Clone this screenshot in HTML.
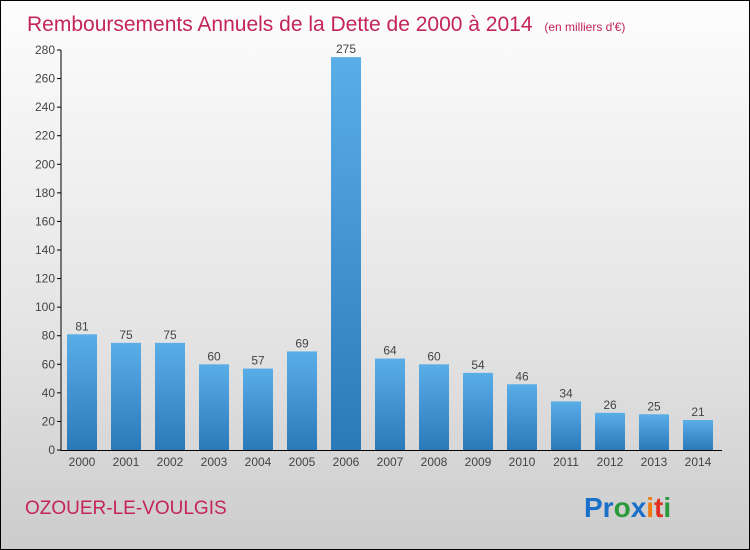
<!DOCTYPE html>
<html><head><meta charset="utf-8"><style>
body{margin:0;}
#c{width:748px;height:548px;border:1px solid #000;background:linear-gradient(#fdfdfd,#e4e4e4 60%,#cccccc);position:relative;font-family:"Liberation Sans",sans-serif;overflow:hidden}
</style></head><body>
<div id="c">
<svg id="s" width="748" height="548">
<defs><linearGradient id="g" x1="0" y1="0" x2="0" y2="1"><stop offset="0" stop-color="#5aaee8"/><stop offset="1" stop-color="#2a7ab8"/></linearGradient></defs>
<text x="26" y="30" font-size="21" fill="#c4245a">Remboursements Annuels de la Dette de 2000 à 2014 <tspan font-size="12" dx="6">(en milliers d'€)</tspan></text>
<text x="24" y="513" font-size="19" fill="#c4245a">OZOUER-LE-VOULGIS</text>
<text x="583" y="516" font-size="28" font-weight="bold"><tspan fill="#1a6fc8">Pr</tspan><tspan fill="#2a9a3a">o</tspan><tspan fill="#1a6fc8">x</tspan><tspan fill="#f07a10">i</tspan><tspan fill="#e03020">t</tspan><tspan fill="#2a9a3a">i</tspan></text>
<g id="plot"></g>
</svg></div>
<script>
const categories=["2000","2001","2002","2003","2004","2005","2006","2007","2008","2009","2010","2011","2012","2013","2014"];
const values=[81,75,75,60,57,69,275,64,60,54,46,34,26,25,21];
const ticks=[0,20,40,60,80,100,120,140,160,180,200,220,240,260,280];
const ns="http://www.w3.org/2000/svg";
const g=document.getElementById('plot');
const y0=449,ymax=280,ypx=400;
const y=v=>y0-v/ymax*ypx;
const x=i=>81+i*44;
function el(t,a,txt){const e=document.createElementNS(ns,t);for(const k in a)e.setAttribute(k,a[k]);if(txt!==undefined)e.textContent=txt;g.appendChild(e);return e;}
ticks.forEach(t=>{
 const l=el('line',{x1:56,x2:60,y1:y(t),y2:y(t),stroke:'#000'});
 
 const tx=el('text',{x:54,y:y(t)+4,'font-size':12,'text-anchor':'end',fill:'#444'},t);
 
});
values.forEach((v,i)=>{
 const r=el('rect',{x:x(i)-15,y:y(v),width:30,height:y0-y(v),fill:'url(#g)'});
 
 const t=el('text',{x:x(i),y:y(v)-4,'font-size':12,'text-anchor':'middle',fill:'#444'},v);
 
 const c=el('text',{x:x(i),y:465,'font-size':12,'text-anchor':'middle',fill:'#444'},categories[i]);
 
});
const ya=el('line',{x1:60,x2:60,y1:y(280),y2:y0+1,stroke:'#000'});

const xa=el('line',{x1:60,x2:721,y1:y0+0.5,y2:y0+0.5,stroke:'#000'});

</script>
</body></html>
